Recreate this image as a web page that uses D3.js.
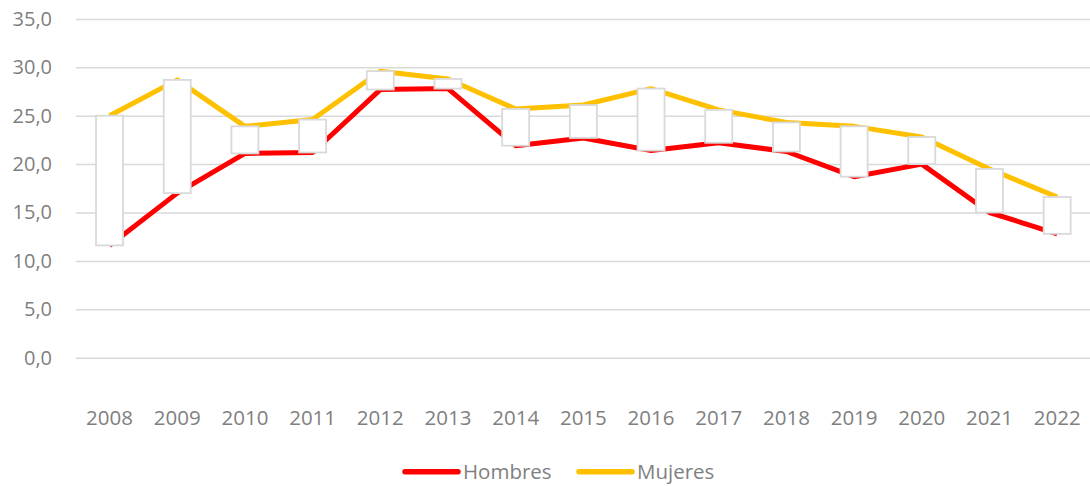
<!DOCTYPE html>
<html>
<head>
<meta charset="utf-8">
<script src="https://cdn.jsdelivr.net/npm/d3@7"></script>
<style>
body { margin: 0; background: #fff; }
svg { display: block; font-family: "Open Sans", sans-serif; }
</style>
</head>
<body>
<script>
var years = ["2008","2009","2010","2011","2012","2013","2014","2015","2016","2017","2018","2019","2020","2021","2022"];
var hombres = [11.6, 17.0, 21.1, 21.2, 27.7, 27.8, 21.9, 22.7, 21.4, 22.2, 21.3, 18.7, 20.0, 15.0, 12.8];
var mujeres = [25.0, 28.7, 23.9, 24.6, 29.6, 28.8, 25.7, 26.1, 27.8, 25.6, 24.3, 23.9, 22.8, 19.5, 16.6];
var yTicks = [0, 5, 10, 15, 20, 25, 30, 35];
var seriesNames = ["Hombres", "Mujeres"];
var seriesColors = ["#ff0000", "#ffc000"];

var W = 1090, H = 486;
var plotLeft = 75.7, plotRight = 1091, plotTop = 18.9, plotBottom = 357.7;
var textColor = "#7f7f7f";
var gridColor = "#d9d9d9";

var svg = d3.select("body").append("svg")
.attr("width", W)
.attr("height", H);

var xScale = d3.scaleBand().domain(years).range([plotLeft, plotRight]).padding(0);
var yScale = d3.scaleLinear().domain([0, 35]).range([plotBottom, plotTop]);
function cx(d) { return xScale(d) + xScale.bandwidth() / 2; }

// gridlines + y labels
var yAxis = d3.axisLeft(yScale)
.tickValues(yTicks)
.tickSize(-(plotRight - plotLeft))
.tickPadding(23.7)
.tickFormat(function(d){ return d3.format(".1f")(d).replace(".", ","); });

var yAxisGroup = svg.append("g")
.attr("transform", "translate(" + plotLeft + ",0)")
.call(yAxis);
yAxisGroup.select(".domain").remove();
yAxisGroup.selectAll("line").attr("stroke", gridColor).attr("stroke-width", 1.5);
yAxisGroup.selectAll("text").attr("fill", textColor).style("font-size", "20px")
.attr("font-family", "Open Sans");

// x labels
var xAxis = d3.axisBottom(xScale).tickSize(0).tickPadding(52.7);
var xAxisGroup = svg.append("g")
.attr("transform", "translate(0," + plotBottom + ")")
.call(xAxis);
xAxisGroup.select(".domain").remove();
xAxisGroup.selectAll("text").attr("fill", textColor).style("font-size", "20.5px")
.attr("font-family", "Open Sans");

// lines
var series = [hombres, mujeres];
series.forEach(function(vals, i) {
	var line = d3.line()
	.x(function(d, j){ return cx(years[j]); })
	.y(function(d){ return yScale(d); });
	svg.append("path")
	.datum(vals)
	.attr("d", line)
	.attr("fill", "none")
	.attr("stroke", seriesColors[i])
	.attr("stroke-width", 5)
	.attr("stroke-linejoin", "round");
});

// up-down bars
var boxW = 27;
svg.selectAll("rect.updown")
.data(years)
.enter()
.append("rect")
.attr("class", "updown")
.attr("x", function(d){ return cx(d) - boxW / 2; })
.attr("y", function(d, i){ return yScale(Math.max(hombres[i], mujeres[i])); })
.attr("width", boxW)
.attr("height", function(d, i){ return Math.abs(yScale(hombres[i]) - yScale(mujeres[i])); })
.attr("fill", "#ffffff")
.attr("stroke", gridColor)
.attr("stroke-width", 1.8);

// legend
var legendX = [403, 577];
var legend = svg.selectAll("g.legend")
.data(seriesNames)
.enter()
.append("g")
.attr("class", "legend")
.attr("transform", function(d, i){ return "translate(" + legendX[i] + ",471.7)"; });
legend.append("line")
.attr("x1", 2).attr("x2", 55)
.attr("stroke", function(d, i){ return seriesColors[i]; })
.attr("stroke-width", 5.5)
.attr("stroke-linecap", "round");
legend.append("text")
.attr("x", 60)
.attr("y", 7.5)
.attr("fill", textColor)
.style("font-size", "20.5px")
.text(function(d){ return d; });
</script>
</body>
</html>
